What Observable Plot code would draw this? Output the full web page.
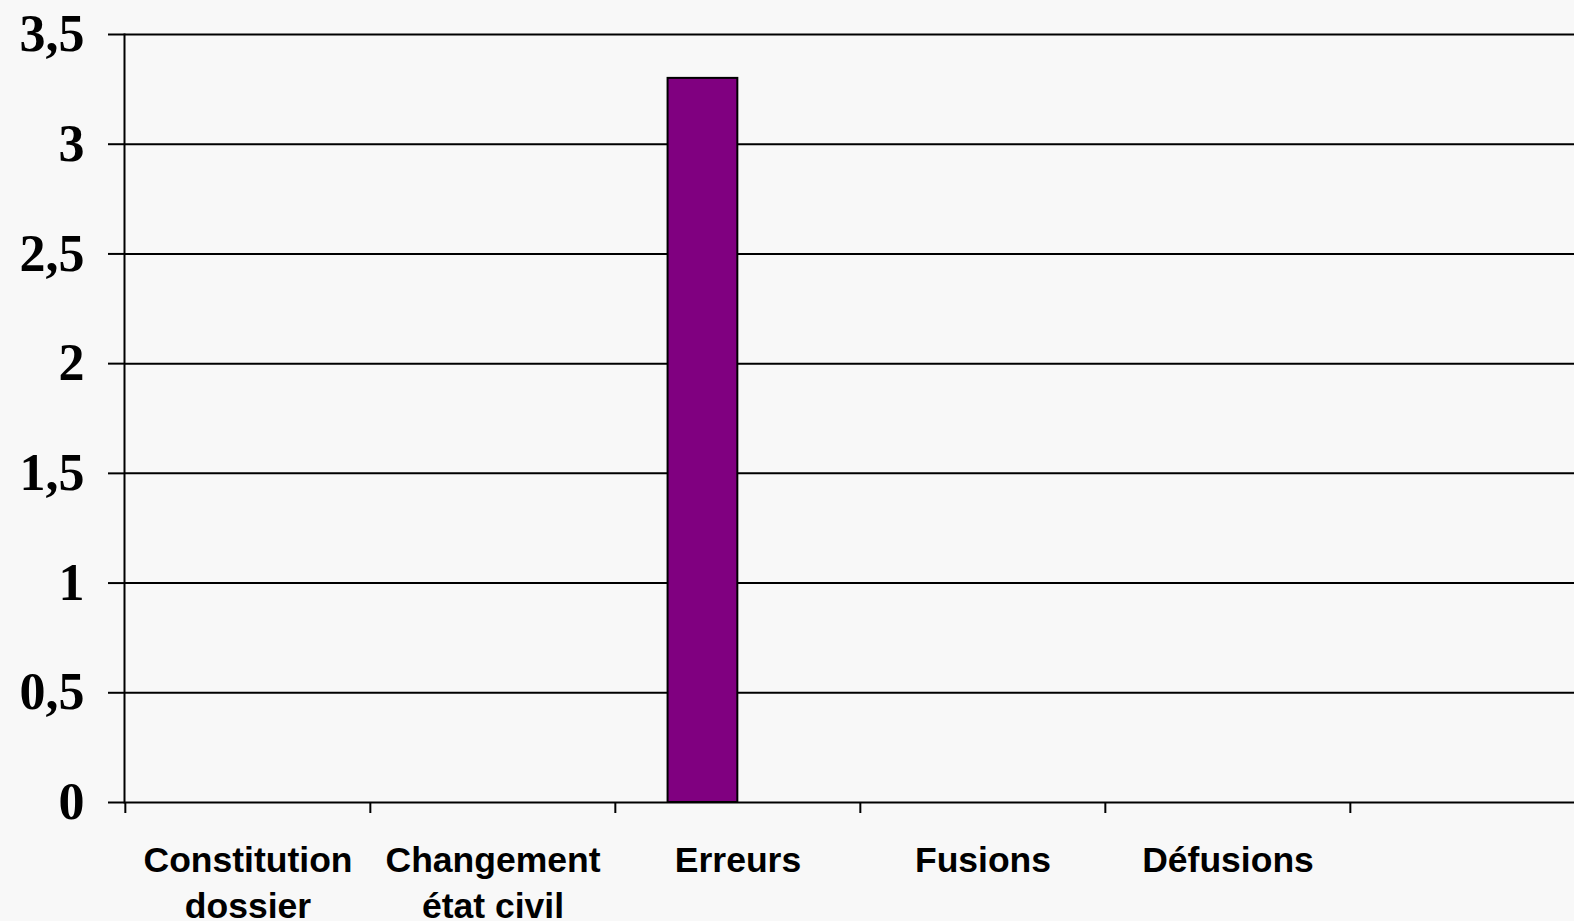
<!DOCTYPE html>
<html><head><meta charset="utf-8">
<script src="https://cdn.jsdelivr.net/npm/d3@7"></script>
<script src="https://cdn.jsdelivr.net/npm/@observablehq/plot@0.6"></script>
<style>
html,body{margin:0;padding:0;background:#f8f8f8;overflow:hidden;}
</style></head><body><div id="chart"></div>
<script>
const categories = ["Constitution\ndossier", "Changement\nétat civil", "Erreurs", "Fusions", "Défusions", ""];
const values = [0, 0, 3.3, 0, 0, 0];
const yTicks = [0, 0.5, 1, 1.5, 2, 2.5, 3, 3.5];
const yTickLabels = ["0", "0,5", "1", "1,5", "2", "2,5", "3", "3,5"];

const W = 1596, H = 921, ML = 124, MR = 0, MT = 34, MB = 119;
const bw = (W - ML - MR) / categories.length;
const gap = 1.5, nSeries = 2;
const step = bw / (nSeries + gap);
const data = categories.map((c, i) => ({cat: c, value: values[i]})).filter(d => d.value > 0);

const chart = Plot.plot({
  width: W, height: H,
  marginLeft: ML, marginRight: MR, marginTop: MT, marginBottom: MB,
  style: {background: "#f8f8f8", color: "#000", maxWidth: "none"},
  x: {type: "band", domain: categories, padding: 0, label: null},
  y: {domain: [0, 3.5], label: null},
  marks: [
    Plot.gridY(yTicks, {stroke: "#000", strokeOpacity: 1, strokeWidth: 2}),
    Plot.frame({anchor: "left", stroke: "#000", strokeWidth: 2}),
    Plot.axisY(yTicks, {tickSize: 16, tickPadding: 24, tickFormat: d => yTickLabels[yTicks.indexOf(d)],
      fontSize: 52, fontWeight: "bold", fontFamily: "Liberation Serif", strokeWidth: 2, label: null}),
    Plot.axisX({tickSize: 11, dx: -bw / 2, tickFormat: () => "", strokeWidth: 2, label: null}),
    Plot.axisX({tickSize: 0, tickPadding: 37, fontSize: 35.5, fontWeight: "bold",
      fontFamily: "Liberation Sans", lineHeight: 1.3, label: null}),
    Plot.barY(data, {x: "cat", y: "value", fill: "#800080", stroke: "#000", strokeWidth: 2,
      insetLeft: step * gap / 2, insetRight: bw - step * (gap / 2 + 1)})
  ]
});
document.getElementById("chart").appendChild(chart);
</script></body></html>
